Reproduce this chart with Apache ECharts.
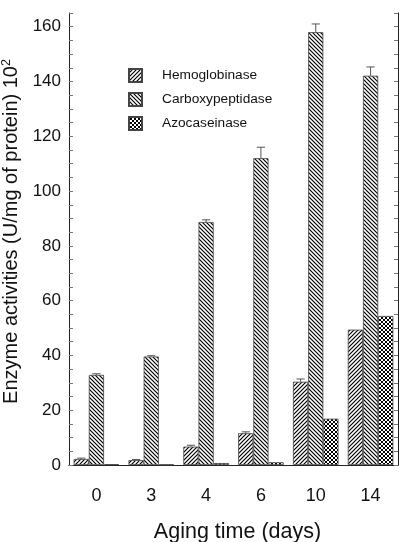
<!DOCTYPE html>
<html>
<head>
<meta charset="utf-8">
<script src="https://cdn.jsdelivr.net/npm/echarts@6/dist/echarts.min.js"></script>
<style>html,body{margin:0;padding:0;background:#fff}#c{width:402px;height:542px}</style>
</head>
<body>
<div id="c"></div>
<script>
const categories = ['0', '3', '4', '6', '10', '14'];
const seriesNames = ['Hemoglobinase', 'Carboxypeptidase', 'Azocaseinase'];
const hemoglobinase = [2.2, 1.8, 6.7, 11.6, 30.4, 49.4];
const carboxypeptidase = [32.9, 39.6, 88.7, 112.0, 158.0, 142.1];
const azocaseinase = [0.3, 0.2, 0.7, 1.0, 16.9, 54.4];
const hemoglobinaseErr = [0.3, 0.2, 0.5, 0.5, 1.0, 0];
const carboxypeptidaseErr = [0.4, 0.3, 0.8, 4.0, 3.0, 3.2];
const azocaseinaseErr = [0, 0, 0, 0, 0, 0];
const yTicks = [0, 20, 40, 60, 80, 100, 120, 140, 160];

const FONT = 'Liberation Sans, Arial, sans-serif';
const GAP = 0.17;

function makePattern(kind) {
  const c = document.createElement('canvas');
  c.width = 4; c.height = 4;
  const ctx = c.getContext('2d');
  ctx.fillStyle = '#fff';
  ctx.fillRect(0, 0, 4, 4);
  ctx.strokeStyle = '#000';
  ctx.lineWidth = 1.2;
  function slash() {
    ctx.beginPath();
    ctx.moveTo(-1, 5); ctx.lineTo(5, -1);
    ctx.moveTo(-1, 1); ctx.lineTo(1, -1);
    ctx.moveTo(3, 5); ctx.lineTo(5, 3);
    ctx.stroke();
  }
  function back() {
    ctx.beginPath();
    ctx.moveTo(-1, -1); ctx.lineTo(5, 5);
    ctx.moveTo(3, -1); ctx.lineTo(5, 1);
    ctx.moveTo(-1, 3); ctx.lineTo(1, 5);
    ctx.stroke();
  }
  if (kind === 'slash') slash();
  else if (kind === 'back') back();
  else { ctx.lineWidth = 1; slash(); back(); }
  return { image: c, repeat: 'repeat' };
}

const patterns = [makePattern('slash'), makePattern('back'), makePattern('cross')];
const values = [hemoglobinase, carboxypeptidase, azocaseinase];
const errs = [hemoglobinaseErr, carboxypeptidaseErr, azocaseinaseErr];

const errData = [];
values.forEach((arr, k) => {
  arr.forEach((v, i) => {
    if (errs[k][i] > 0) errData.push([i, v, errs[k][i], k]);
  });
});

const chart = echarts.init(document.getElementById('c'), null, { renderer: 'canvas' });

const barSeries = seriesNames.map((name, k) => ({
  name: name,
  type: 'bar',
  data: values[k],
  barGap: 0,
  barCategoryGap: (GAP * 100) + '%',
  itemStyle: { color: patterns[k], borderColor: '#444', borderWidth: 0.8 },
  z: 2
}));

const errSeries = {
  type: 'custom',
  data: errData,
  z: 5,
  silent: true,
  renderItem: function (params, api) {
    const ci = api.value(0), v = api.value(1), e = api.value(2), k = api.value(3);
    const catW = api.size([1, 0])[0];
    const barW = catW * (1 - GAP) / 3;
    const base = api.coord([ci, v]);
    const x = base[0] + (k - 1) * barW;
    const yTop = api.coord([ci, v + e])[1];
    const yBot = base[1];
    const cap = barW * 0.27;
    return {
      type: 'group',
      children: [
        { type: 'line', shape: { x1: x, y1: yBot, x2: x, y2: yTop }, style: { stroke: '#555', lineWidth: 1 } },
        { type: 'line', shape: { x1: x - cap, y1: yTop, x2: x + cap, y2: yTop }, style: { stroke: '#555', lineWidth: 1 } }
      ]
    };
  }
};

chart.setOption({
  animation: false,
  backgroundColor: '#fff',
  textStyle: { fontFamily: FONT },
  grid: { left: 69, right: 4, top: 13, bottom: 77, containLabel: false, outerBoundsMode: 'none' },
  legend: {
    data: seriesNames,
    orient: 'vertical',
    left: 128,
    top: 68,
    padding: 0,
    itemWidth: 13,
    itemHeight: 13,
    itemGap: 9,
    icon: 'rect',
    textStyle: { fontFamily: FONT, fontSize: 13.7, color: '#111', padding: [0, 0, 0, 15], lineHeight: 14 }
  },
  xAxis: [
    {
      type: 'category',
      data: categories,
      position: 'bottom',
      axisLine: { lineStyle: { color: '#222', width: 1 } },
      axisTick: { inside: true, length: 12, lineStyle: { color: '#888' } },
      axisLabel: { fontSize: 18, color: '#111', margin: 22, fontFamily: FONT },
      name: 'Aging time (days)',
      nameLocation: 'middle',
      nameGap: 56,
      nameTextStyle: { fontSize: 21.5, color: '#111', fontFamily: FONT, padding: [0, 0, 0, 8] }
    },
    {
      type: 'category',
      data: categories,
      position: 'top',
      axisLine: { lineStyle: { color: '#222', width: 1 } },
      axisTick: { inside: true, length: 12, lineStyle: { color: '#888' } },
      axisLabel: { show: false }
    }
  ],
  yAxis: [
    {
      type: 'value',
      min: 0,
      max: 165,
      interval: 5,
      position: 'left',
      splitLine: { show: false },
      axisLine: { show: true, lineStyle: { color: '#222', width: 1 } },
      axisTick: { show: true, inside: true, length: 4, lineStyle: { color: '#777' } },
      axisLabel: {
        fontSize: 17, color: '#111', margin: 8, fontFamily: FONT,
        formatter: function (v) { return yTicks.indexOf(v) >= 0 ? String(v) : ''; }
      },
      name: '{a|Enzyme activities (U/mg of protein) 10}{s|2}',
      nameLocation: 'middle',
      nameRotate: 90,
      nameGap: 42,
      nameTextStyle: {
        padding: [0, 0, 0, 15],
        rich: {
          a: { fontSize: 20, color: '#111', fontFamily: FONT, lineHeight: 22, verticalAlign: 'bottom' },
          s: { fontSize: 12.5, color: '#111', fontFamily: FONT, lineHeight: 22, verticalAlign: 'top' }
        }
      }
    },
    {
      type: 'value',
      min: 0,
      max: 165,
      interval: 5,
      position: 'right',
      splitLine: { show: false },
      axisLine: { show: true, lineStyle: { color: '#222', width: 1 } },
      axisTick: { show: true, inside: true, length: 4, lineStyle: { color: '#777' } },
      axisLabel: { show: false }
    }
  ],
  series: barSeries.concat([errSeries])
});
</script>
</body>
</html>
